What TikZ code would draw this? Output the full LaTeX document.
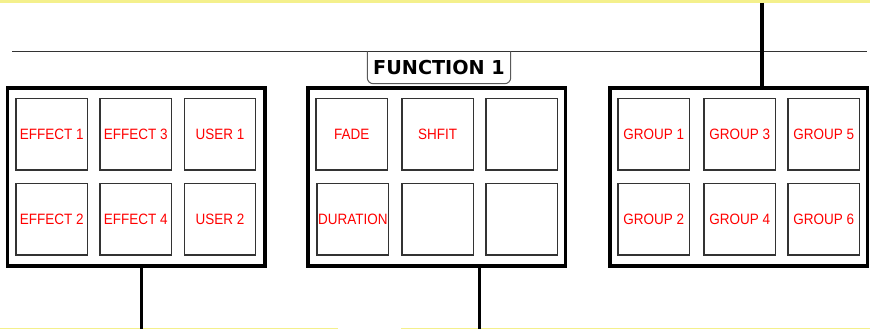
\documentclass[tikz,border=0pt]{standalone}
\usepackage{fontspec}
\setmainfont{Liberation Sans}
\newfontfamily\headfont{DejaVu Sans}
\newfontfamily\btnfont{Liberation Sans}[FakeStretch=0.9]
\usetikzlibrary{calc}

\definecolor{hiyellow}{HTML}{F4F08C}
\definecolor{btnred}{HTML}{FF0000}

\tikzset{
	panel/.style={draw=black, line width=3.5pt, minimum width=257.5pt, minimum height=177.7pt, inner sep=0pt},
	btn/.style={draw=black!80, line width=1.3pt, minimum width=71.5pt, minimum height=71.7pt, inner sep=0pt, text=btnred, font=\btnfont\fontsize{15}{16}\selectfont},
	feed/.style={line width=3.3pt},
}

\begin{document}
\begin{tikzpicture}[x=1pt, y=-1pt]
		%%%%% START %%%%%
		\useasboundingbox (0, 0) rectangle (870, 329);
		
		\fill[hiyellow] (0, 0) rectangle (870, 3);
		\fill[hiyellow] (0, 327.5) rectangle (338, 329);
		\fill[hiyellow] (401, 327.5) rectangle (870, 329);
		
		\coordinate (busW) at (12, 51.5);
		\coordinate (busE) at (867, 51.5);
		\draw[line width=1.7pt, color=black!80] (busW) -- (busE);
		
		\node[font=\headfont\bfseries\fontsize{19.2}{20}\selectfont, minimum width=143pt, minimum height=32pt, inner sep=0pt] (fn) at (439, 67.5) {FUNCTION 1};
		\draw[line width=1pt, color=black!65, rounded corners=6pt] (fn.north west) -- (fn.south west) -- (fn.south east) -- (fn.north east);
		
		\node[panel] (effects) at (136.25, 176.9) {};
		\node[panel] (timing) at (436.7, 176.9) {};
		\node[panel] (groups) at (738.7, 176.9) {};
		
		\node[btn] (eff1) at (51.7, 134.2) {EFFECT 1};
		\node[btn] (eff3) at (135.8, 134.2) {EFFECT 3};
		\node[btn] (usr1) at (220, 134.2) {USER 1};
		\node[btn] (eff2) at (51.7, 219.2) {EFFECT 2};
		\node[btn] (eff4) at (135.8, 219.2) {EFFECT 4};
		\node[btn] (usr2) at (220, 219.2) {USER 2};
		
		\node[btn] (fade) at (351.8, 134.2) {FADE};
		\node[btn] (shfit) at (437.7, 134.2) {SHFIT};
		\node[btn] (tmA) at (521.8, 134.2) {};
		\node[btn] (dur) at (352.8, 219.2) {DURATION};
		\node[btn] (tmB) at (437.7, 219.2) {};
		\node[btn] (tmC) at (521.8, 219.2) {};
		
		\node[btn] (grp1) at (653.8, 134.2) {GROUP 1};
		\node[btn] (grp3) at (739.8, 134.2) {GROUP 3};
		\node[btn] (grp5) at (823.8, 134.2) {GROUP 5};
		\node[btn] (grp2) at (653.8, 219.2) {GROUP 2};
		\node[btn] (grp4) at (739.8, 219.2) {GROUP 4};
		\node[btn] (grp6) at (823.8, 219.2) {GROUP 6};
		
		\coordinate (groupsT) at (762, 3);
		\draw[feed] (groupsT) -- (groupsT |- groups.north);
		\coordinate (effectsB) at (141.7, 329);
		\draw[feed] (effectsB |- effects.south) -- (effectsB);
		\coordinate (timingB) at (479.3, 329);
		\draw[feed] (timingB |- timing.south) -- (timingB);
		
		%%%%% END %%%%%
	\end{tikzpicture}
\end{document}
